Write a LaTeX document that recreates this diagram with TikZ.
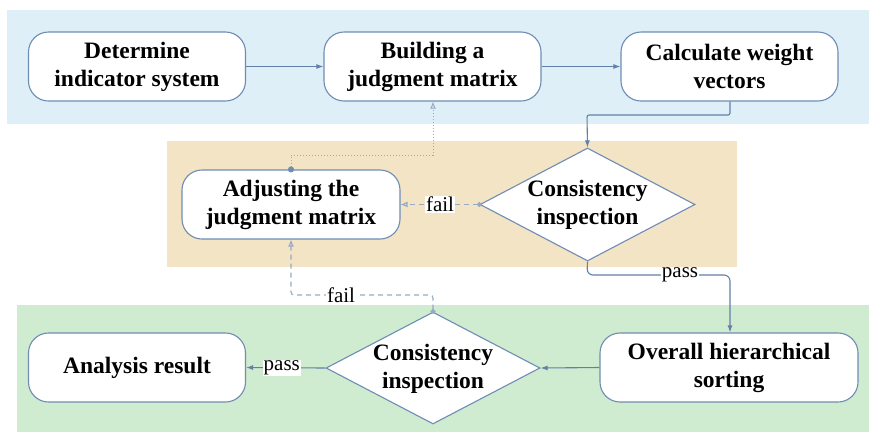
\documentclass[tikz,border=0pt]{standalone}
\usepackage{fontspec}
\setmainfont{Liberation Serif}
\usetikzlibrary{shapes.geometric,arrows.meta}
\definecolor{bandblue}{RGB}{223,239,247}
\definecolor{bandtan}{RGB}{242,228,196}
\definecolor{bandgreen}{RGB}{207,236,208}
\definecolor{edgeblue}{RGB}{98,128,168}
\definecolor{boxline}{RGB}{110,140,180}
\definecolor{dashc}{RGB}{150,170,195}
\tikzset{
  procbox/.style={draw=boxline, line width=1.1pt, fill=white, rounded corners=20pt,
    minimum width=217pt, minimum height=69pt, inner sep=0pt, align=center,
    font=\fontsize{23.5}{28}\selectfont\bfseries},
  decbox/.style={draw=boxline, line width=1.1pt, fill=white, diamond, inner sep=0pt,
    minimum width=215pt, minimum height=113pt},
  dectext/.style={align=center, inner sep=0pt, font=\fontsize{23.5}{28}\selectfont\bfseries},
  solidedge/.style={draw=edgeblue, line width=1.1pt, -{Latex[length=7pt,width=5pt]}},
  dashedge/.style={draw=dashc, line width=1.1pt, dashed, dash pattern=on 5pt off 4pt,
    shorten <=-2.5pt,
    {Circle[length=5pt,fill=dashc]}-{Latex[open,length=7pt,width=6pt]}},
  dotedge/.style={draw=dashc, line width=1pt, dotted, shorten <=-3pt,
    {Circle[length=6pt,color=boxline,fill=boxline]}-{Latex[open,length=7pt,width=6pt]}},
  elabel/.style={fill=white, inner sep=1pt, font=\fontsize{21}{23}\selectfont},
}
\begin{document}
\begin{tikzpicture}[x=1pt,y=-1pt]
\useasboundingbox (0,0) rectangle (869,432);
% bands
\fill[bandblue] (7,10) rectangle (869,124);
\fill[bandtan] (167,141) rectangle (737,267);
\fill[bandgreen] (17,305) rectangle (869,432);
% nodes
\node[procbox] (det) at (137,66.5) {Determine\\indicator system};
\node[procbox] (bld) at (432.5,66.5) {Building a\\judgment matrix};
\node[procbox] (cal) at (729.5,66.5) {Calculate weight\\vectors};
\node[procbox, minimum width=218pt] (adj) at (291,204.5) {Adjusting the\\judgment matrix};
\node[decbox] (ci1) at (587.5,204.5) {};
\node[dectext] (ci1t) at (587.5,205) {Consistency\\inspection};
\node[procbox, minimum width=258pt] (ovr) at (729,367.5) {Overall hierarchical\\sorting};
\node[decbox, minimum width=214pt, minimum height=112pt] (ci2) at (433,368) {};
\node[dectext] (ci2t) at (433,368.5) {Consistency\\inspection};
\node[procbox] (res) at (137,367.5) {Analysis result};
% connectors
\coordinate (c1) at (730,115);
\coordinate (c2) at (587,115);
\draw[solidedge] (det) -- (bld);
\draw[solidedge] (bld) -- (cal);
\draw[solidedge, rounded corners=2pt] (cal.south -| c1) -- (c1) -- (c2) -- (ci1.north);
\draw[dashedge] (ci1.west) -- node[elabel] (f1) {fail} (adj.east);
\coordinate (d1) at (291,155);
\coordinate (d2) at (433,155);
\draw[dotedge] (adj.north) -- (d1) -- (d2) -- (bld.south -| d2);
\coordinate (p1) at (587,275);
\coordinate (p2) at (730,275);
\draw[solidedge, rounded corners=6pt] (ci1.south) -- (p1) -- (p2) -- (ovr.north -| p2);
\node[elabel] (p1l) at (680,275) {pass};
\draw[solidedge] (ovr.west) -- (ci2.east);
\draw[solidedge] (ci2.west) -- node[elabel, pos=0.55] (p2l) {pass} (res.east);
\coordinate (e1) at (433,295);
\coordinate (e2) at (291,295);
\draw[dashedge, rounded corners=3pt] (ci2.north) -- (e1) -- (e2) -- (adj.south);
\node[elabel] (f2l) at (341,295) {fail};
\end{tikzpicture}
\end{document}
